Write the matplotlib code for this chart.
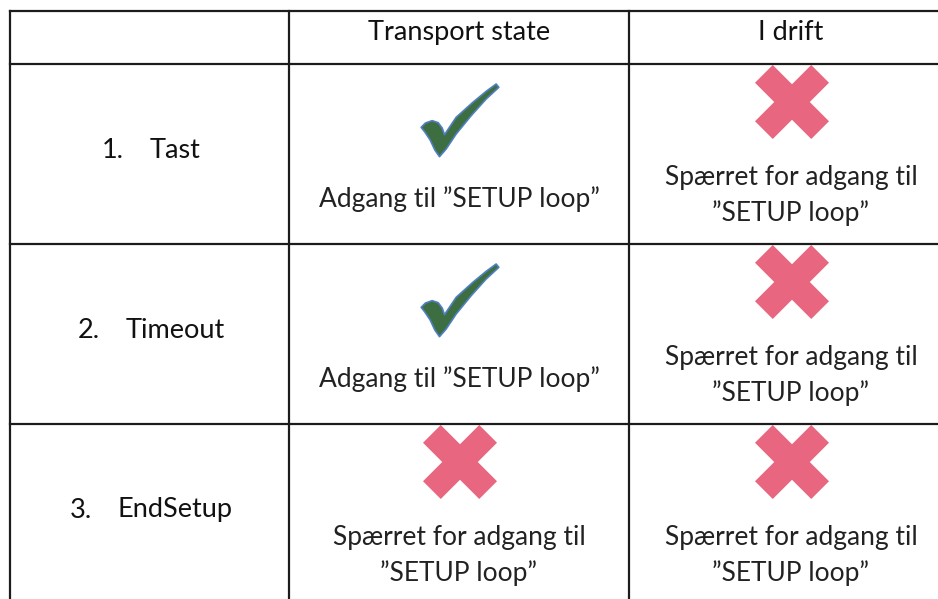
import matplotlib
matplotlib.use("Agg")
import matplotlib.pyplot as plt
from matplotlib.patches import Polygon
import numpy as np

plt.rcParams['font.family'] = ['Lato', 'DejaVu Sans']

# table content
col_headers = ["Transport state", "I drift"]
row_numbers = ["1.", "2.", "3."]
row_labels = ["Tast", "Timeout", "EndSetup"]
access = [[True, False],
          [True, False],
          [False, False]]
text_allowed = ["Adgang til \u201dSETUP loop\u201d"]
text_denied = ["Sp\u00e6rret for adgang til", "\u201dSETUP loop\u201d"]

# layout (pixels)
col_edges = [10, 289, 629, 953]
row_edges = [11, 64, 244, 424, 604]
num_to_label = 48
fs = 19.5
fs_body = 19

green = "#3d6e42"
green_edge = "#4f7fc0"
pink = "#e8667f"

# check mark outline, pixel offsets from its centre (y down)
check_pts = np.array([
    (65, 170), (78, 157), (98, 150), (116, 156), (128, 172), (135, 192),
    (170, 140), (220, 95), (260, 62), (290, 40), (298, 50), (260, 85),
    (215, 135), (170, 190), (140, 235), (120, 258), (106, 238), (92, 208),
    (76, 184)], dtype=float)
check_pts = (check_pts - [181.5, 148]) / 3.0


def cross_shape(cx, cy, half=37, e=0.48):
    t = e
    pts = [(0, t), (1 - e, 1), (1, 1 - e), (t, 0), (1, -1 + e), (1 - e, -1),
           (0, -t), (-1 + e, -1), (-1, -1 + e), (-t, 0), (-1, 1 - e), (-1 + e, 1)]
    pts = np.array(pts) * half
    pts[:, 1] *= -1
    return pts + [cx, cy]


fig = plt.figure(figsize=(9.38, 5.99), dpi=100)
ax = fig.add_axes([0, 0, 1, 1])
ax.set_xlim(0, 938)
ax.set_ylim(599, 0)
ax.axis("off")

# grid
line_kw = dict(color="#1c1c1c", lw=1.6, solid_capstyle="projecting")
for y in row_edges:
    ax.plot([col_edges[0], col_edges[-1]], [y, y], **line_kw)
for x in col_edges:
    ax.plot([x, x], [row_edges[0], row_edges[-1]], **line_kw)

# headers
for j, h in enumerate(col_headers):
    cx = (col_edges[j + 1] + col_edges[j + 2]) / 2
    ax.text(cx, (row_edges[0] + row_edges[1]) / 2 - 5, h,
            ha="center", va="center", fontsize=fs, color="#111111")

renderer = fig.canvas.get_renderer()

for i in range(len(row_labels)):
    top = row_edges[i + 1]
    cy = top + 86
    # row label: number + hanging indent label, centred in first column
    lab = ax.text(0, cy, row_labels[i], ha="left", va="center",
                  fontsize=fs, color="#111111")
    w = lab.get_window_extent(renderer).width
    start = (col_edges[0] + col_edges[1]) / 2 - (num_to_label + w) / 2 + 2
    lab.set_x(start + num_to_label)
    ax.text(start, cy, row_numbers[i], ha="left", va="center",
            fontsize=fs, color="#111111")

    for j, ok in enumerate(access[i]):
        cx = (col_edges[j + 1] + col_edges[j + 2]) / 2
        if ok:
            ax.add_patch(Polygon(check_pts + [cx + 1, top + 56], closed=True,
                                 facecolor=green, edgecolor=green_edge,
                                 lw=1.2, joinstyle="round"))
            ax.text(cx, top + 135, text_allowed[0], ha="center", va="center",
                    fontsize=fs_body, color="#222222")
        else:
            ax.add_patch(Polygon(cross_shape(cx + 1, top + 38), closed=True,
                                 facecolor=pink, edgecolor="none"))
            for k, line in enumerate(text_denied):
                ax.text(cx, top + 113 + 36 * k, line, ha="center", va="center",
                        fontsize=fs_body, color="#222222")

fig.savefig("out.png", dpi=100)
